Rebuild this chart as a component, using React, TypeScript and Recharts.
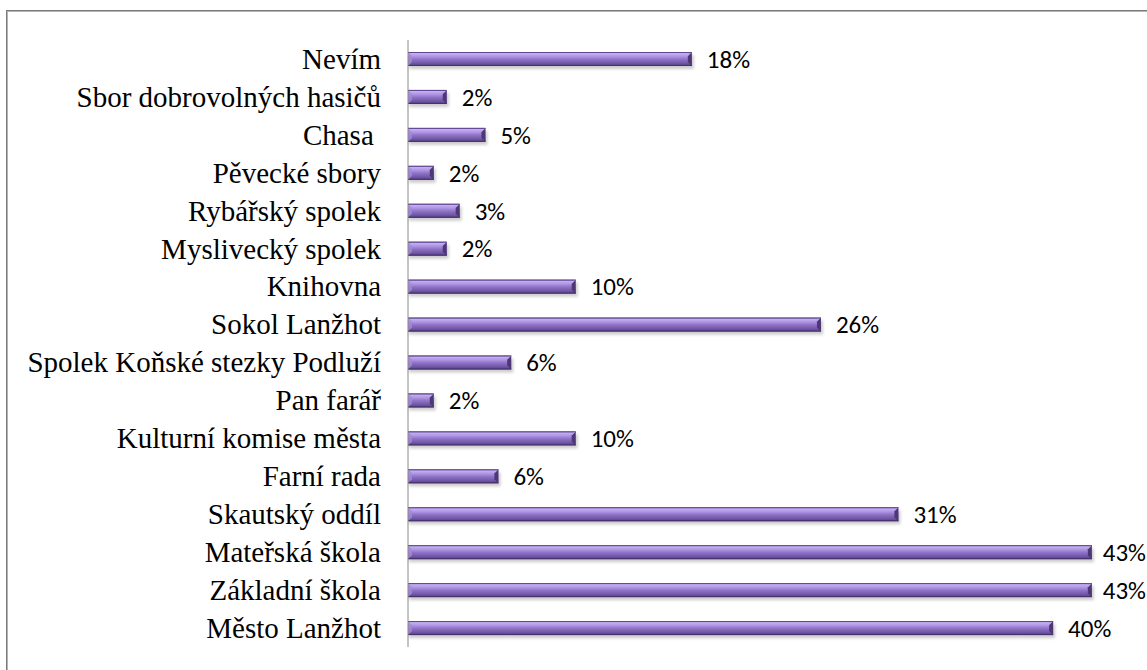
import React from "react";
import { BarChart, Bar, XAxis, YAxis, LabelList } from "recharts";

const categories = [
  "Nevím",
  "Sbor dobrovolných hasičů",
  "Chasa ",
  "Pěvecké sbory",
  "Rybářský spolek",
  "Myslivecký spolek",
  "Knihovna",
  "Sokol Lanžhot",
  "Spolek Koňské stezky Podluží",
  "Pan farář",
  "Kulturní komise města",
  "Farní rada",
  "Skautský oddíl",
  "Mateřská škola",
  "Základní škola",
  "Město Lanžhot",
];

const values = [
  17.74, 2.42, 4.84, 1.61, 3.23, 2.42, 10.48, 25.81, 6.45, 1.61, 10.48, 5.65,
  30.65, 42.74, 42.74, 40.32,
];

const valueLabels = [
  "18%", "2%", "5%", "2%", "3%", "2%", "10%", "26%", "6%", "2%", "10%", "6%",
  "31%", "43%", "43%", "40%",
];

const data = categories.map((name, i) => ({
  name,
  value: values[i],
  label: valueLabels[i],
}));

const SERIF = "Liberation Serif, Times New Roman, Times, serif";
const SANS = "Carlito, Lato, Open Sans, sans-serif";
const CHART_W = 1147;

const CatTick = (props: any) => {
  const { x, y, payload } = props;
  return (
    <text
      x={x}
      y={y}
      dy="0.34em"
      textAnchor="end"
      fill="#000"
      fontFamily={SERIF}
      fontSize={29}
      style={{ fontFamily: SERIF, fontSize: 29, whiteSpace: "pre" }}
    >
      {payload.value}
    </text>
  );
};

const ValueLabel = (props: any) => {
  const { x, y, width, height, value } = props;
  const start = x + width + 15;
  const approxW = String(value).length * 12.8 + 6;
  const fits = start + approxW <= CHART_W - 1;
  return (
    <text
      x={fits ? start : CHART_W - 1}
      y={y + height / 2}
      dy="0.35em"
      textAnchor={fits ? "start" : "end"}
      fill="#000"
      fontFamily={SANS}
      fontSize={25}
      style={{ fontFamily: SANS, fontSize: 25 }}
    >
      {value}
    </text>
  );
};

const BevelBar = (props: any) => {
  const { x, y, width, height, index } = props;
  if (width == null || width <= 0) return null;
  const b = Math.min(4, width / 2);
  const gid = `barGrad-${index}`;
  const fid = `barShadow-${index}`;
  return (
    <g>
      <defs>
        <linearGradient id={gid} x1="0" y1="0" x2="0" y2="1">
          <stop offset="0" stopColor="#67509a" />
          <stop offset="0.1" stopColor="#c6b0f4" />
          <stop offset="0.32" stopColor="#ae94e2" />
          <stop offset="0.52" stopColor="#8f73c8" />
          <stop offset="0.8" stopColor="#7157a6" />
          <stop offset="1" stopColor="#523c7e" />
        </linearGradient>
        <filter id={fid} x="-10%" y="-50%" width="120%" height="250%">
          <feGaussianBlur stdDeviation="1.6" />
        </filter>
      </defs>
      <rect
        x={x + 1}
        y={y + 3}
        width={width + 1}
        height={height}
        fill="#000"
        opacity={0.2}
        filter={`url(#${fid})`}
      />
      <rect x={x} y={y} width={width} height={height} fill={`url(#${gid})`} />
      <polygon
        points={`${x + width - b},${y + b} ${x + width},${y} ${x + width},${y + height} ${x + width - b},${y + height - b}`}
        fill="#4d3775"
      />
      <polygon
        points={`${x + width - b},${y + b} ${x + width},${y} ${x + width - b},${y + 1}`}
        fill="#bba4ec"
      />
      <polygon
        points={`${x},${y} ${x + b},${y + b} ${x + b},${y + height - b} ${x},${y + height}`}
        fill="#a48ad9"
        opacity={0.8}
      />
      <rect x={x} y={y} width={width} height={1} fill="#5e4690" />
      <rect x={x} y={y + height - 1} width={width} height={1} fill="#45316b" />
    </g>
  );
};

export default function App() {
  return (
    <div
      style={{
        position: "absolute",
        left: 0,
        top: 0,
        width: 1147,
        height: 670,
        overflow: "hidden",
        background: "#fff",
        fontFamily: SERIF,
      }}
    >
      <div
        style={{
          position: "absolute",
          left: 6,
          top: 10,
          width: 1300,
          height: 800,
          border: "1px solid #7a7a7a",
          boxShadow: "inset 1px 1px 0 #b4b4b4",
        }}
      />
      <div style={{ position: "absolute", left: 0, top: 0 }}>
        <BarChart
          width={CHART_W}
          height={670}
          data={data}
          layout="vertical"
          margin={{ top: 40, right: 19, bottom: 23, left: 0 }}
        >
          <XAxis type="number" domain={[0, 45]} hide />
          <YAxis
            type="category"
            dataKey="name"
            width={408}
            axisLine={{ stroke: "#8a8a8a", strokeWidth: 1 }}
            tickLine={false}
            tickSize={0}
            tickMargin={27}
            interval={0}
            tick={<CatTick />}
          />
          <Bar
            dataKey="value"
            barSize={14}
            isAnimationActive={false}
            shape={<BevelBar />}
          >
            <LabelList dataKey="label" content={<ValueLabel />} />
          </Bar>
        </BarChart>
      </div>
    </div>
  );
}
